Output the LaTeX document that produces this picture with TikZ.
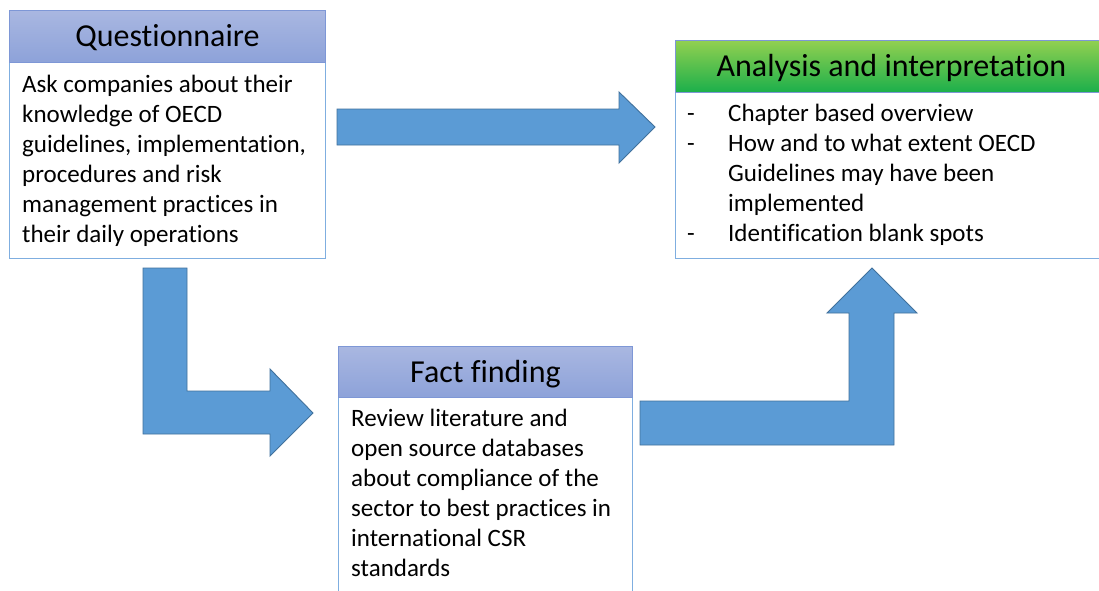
\documentclass[tikz,border=0pt]{standalone}
\usepackage{fontspec}
\setmainfont{Carlito}[Ligatures=CommonOff]
\usepackage{tikz}

\definecolor{arrowfill}{HTML}{5B9BD5}
\definecolor{arrowline}{HTML}{41719C}
\definecolor{headtop}{HTML}{A9B7E1}
\definecolor{headbot}{HTML}{8DA2D9}
\definecolor{headline}{HTML}{7E97D6}
\definecolor{greentop}{HTML}{92D050}
\definecolor{greenbot}{HTML}{1BAF4B}
\definecolor{bodyline}{HTML}{7FAEE0}

\tikzset{
  blockarrow/.style={fill=arrowfill, draw=arrowline, line width=0.9pt, line join=miter},
  headbox/.style={draw=headline, line width=0.9pt, top color=headtop, bottom color=headbot, inner sep=0pt, anchor=north west, text height=21pt, text depth=0pt, font=\fontsize{32}{38}\selectfont},
  bodybox/.style={draw=bodyline, line width=0.9pt, fill=white, inner sep=0pt, anchor=north west},
  bodytext/.style={inner sep=0pt, anchor=north west, align=left, font=\fontsize{25}{30}\selectfont}
}

\begin{document}
\begin{tikzpicture}[x=1pt, y=-1pt]
\useasboundingbox (0, 0) rectangle (1099, 590);
\clip (0, 0) rectangle (1099, 590);
\fill[white] (0, 0) rectangle (1099, 590);
%Arrows
\draw[blockarrow] (337, 109) -- (619, 109) -- (619, 92) -- (655, 127) -- (619, 163) -- (619, 145) -- (337, 145) -- cycle;
\draw[blockarrow] (143, 268) -- (187, 268) -- (187, 391) -- (270, 391) -- (270, 369) -- (313, 413) -- (270, 456) -- (270, 434) -- (143, 434) -- cycle;
\draw[blockarrow] (640, 401) -- (849, 401) -- (849, 313) -- (827, 313) -- (872, 268) -- (917, 313) -- (894, 313) -- (894, 445) -- (640, 445) -- cycle;
%Boxes
\node (questbody) [bodybox, minimum width=316pt, minimum height=196pt] at (9, 62) {};
\node (questhead) [headbox, minimum width=316pt, minimum height=52pt] at (9, 10) {Questionnaire};
\node (analysisbody) [bodybox, minimum width=432pt, minimum height=166pt] at (675, 92) {};
\node (analysishead) [headbox, top color=greentop, bottom color=greenbot, minimum width=432pt, minimum height=52pt] at (675, 40) {Analysis and interpretation};
\node (factbody) [bodybox, minimum width=294pt, minimum height=220pt] at (338, 397) {};
\node (facthead) [headbox, minimum width=294pt, minimum height=51pt] at (338, 346) {Fact finding};
%Text
\node (questtext) [bodytext] at (22, 75) {Ask companies about their\\knowledge of OECD\\guidelines, implementation,\\procedures and risk\\management practices in\\their daily operations};
\node (analysistext) [bodytext] at (687, 104) {\makebox[41pt][l]{-}Chapter based overview\\\makebox[41pt][l]{-}How and to what extent OECD\\\hspace*{41pt}Guidelines may have been\\\hspace*{41pt}implemented\\\makebox[41pt][l]{-}Identification blank spots};
\node (facttext) [bodytext] at (351, 409) {Review literature and\\open source databases\\about compliance of the\\sector to best practices in\\international CSR\\standards};
\end{tikzpicture}
\end{document}
